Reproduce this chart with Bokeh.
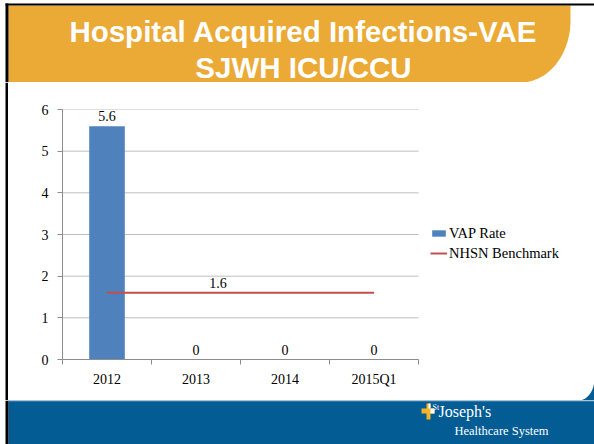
import numpy as np
from bokeh.plotting import figure
from bokeh.layouts import column, row
from bokeh.models import (Range1d, LinearAxis, FixedTicker, ColumnDataSource, LabelSet,
                          Legend, LegendItem)
from bokeh.core.properties import value
from bokeh.embed import file_html
from bokeh.resources import INLINE

# ---------------- data ----------------
categories = ["2012", "2013", "2014", "2015Q1"]
vap_rate = [5.6, 0, 0, 0]
nhsn_benchmark = [1.6, 1.6, 1.6, 1.6]
y_ticks = [0, 1, 2, 3, 4, 5, 6]
series_names = ["VAP Rate", "NHSN Benchmark"]
title_lines = ["Hospital Acquired Infections-VAE", "SJWH ICU/CCU"]
logo_lines = ["St", "Joseph's", "Healthcare System"]

# ---------------- style ----------------
BLUE = "#4F81BD"
RED = "#C0504D"
ORANGE = "#EBAA35"
NAVY = "#035C93"
NAVY_EDGE = "#5A8DB8"
YELLOW = "#F3B42A"
AXIS = "#8C8C8C"
GRID = "#BEBEBE"
SERIF = "Liberation Serif"
SANS = "Liberation Sans"


def deco_fig(x0, y0, w, h):
    """A decoration panel whose data coordinates are page pixels (y downward)."""
    f = figure(width=w, height=h, x_range=Range1d(x0, x0 + w), y_range=Range1d(y0 + h, y0),
               min_border=0, title=None, toolbar_location=None, x_axis_location=None,
               y_axis_location=None, outline_line_color=None, output_backend="svg",
               border_fill_color="white", background_fill_color="white")
    f.grid.visible = False
    f.frame_align = False
    return f


t = np.linspace(0, np.pi / 2, 40)

# ---------------- header ----------------
head = deco_fig(0, 0, 594, 82)
hx = [8, 570, 570] + list(520 + 50 * np.cos(t)) + [8]
hy = [5, 5, 20] + list(20 + 62 * np.sin(t)) + [82]
head.patch(hx, hy, fill_color=ORANGE, line_color=None)
head.quad(left=[5, 5], right=[594, 8], top=[3, 3], bottom=[5, 82], fill_color="black",
          line_color=None)
head.text(x=[303, 303], y=[31, 66.5], text=title_lines, text_align="center",
          text_baseline="middle", text_color="white", text_font=value(SANS),
          text_font_style="bold", text_font_size="29.5px")

# ---------------- left / right strips beside the chart ----------------
lstrip = deco_fig(0, 82, 8, 318)
lstrip.quad(left=[5], right=[8], top=[82], bottom=[400], fill_color="black", line_color=None)

rstrip = deco_fig(578, 82, 16, 318)
rstrip.patch(list(578 + 16 * np.sin(t)) + [594], list(378 + 22 * np.cos(t)) + [400],
             fill_color=NAVY, line_color=None)

# ---------------- footer ----------------
foot = deco_fig(0, 400, 594, 44)
foot.quad(left=[8, 5, 8], right=[594, 8, 594], top=[400, 400, 400], bottom=[444, 444, 401],
          fill_color=[NAVY, "black", NAVY_EDGE], line_color=None)
foot.quad(left=[421, 426, 428, 430], right=[434, 430, 430, 434], top=[408, 403, 403, 408],
          bottom=[413, 419, 408, 413], fill_color=[YELLOW, YELLOW, "white", "white"],
          line_color=None)
foot.text(x=[432, 438, 454], y=[407, 410.5, 430], text=logo_lines,
          text_baseline="middle", text_color="white", text_font=value(SERIF),
          text_font_size=["8px", "16px", "12.5px"])

# ---------------- chart ----------------
n = len(categories)
centers = [i + 0.5 for i in range(n)]      # category slot centres
bounds = list(range(n + 1))                 # category slot boundaries
# frame spans page x 62..578; the category slots occupy page x 62..418
x_end = n * (578 - 62) / (418 - 62)

p = figure(width=570, height=318, x_range=Range1d(0, x_end), y_range=Range1d(0, 6),
           output_backend="svg", toolbar_location=None, x_axis_location=None,
           y_axis_location="left", title=None,
           min_border_left=54, min_border_right=0, min_border_top=27, min_border_bottom=41,
           outline_line_color=None, background_fill_color="white", border_fill_color="white")
p.frame_align = False

tick_axis = LinearAxis(ticker=FixedTicker(ticks=bounds), bounds=(0, n),
                       major_tick_in=0, major_tick_out=5, minor_tick_line_color=None,
                       axis_line_color=AXIS, major_tick_line_color=AXIS,
                       major_label_text_font_size="1px", major_label_text_color=None,
                       major_label_standoff=0)
p.add_layout(tick_axis, "below")
cat_axis = LinearAxis(ticker=FixedTicker(ticks=centers), bounds=(0, n),
                      major_label_overrides={c: lab for c, lab in zip(centers, categories)},
                      axis_line_color=None, major_tick_line_color=None,
                      minor_tick_line_color=None,
                      major_tick_in=0, major_tick_out=0, major_label_standoff=7,
                      major_label_text_font=SERIF, major_label_text_font_size="14px",
                      major_label_text_color="black")
p.add_layout(cat_axis, "below")

p.yaxis.ticker = FixedTicker(ticks=y_ticks)
p.yaxis.major_tick_in = 0
p.yaxis.major_tick_out = 5
p.yaxis.minor_tick_line_color = None
p.yaxis.axis_line_color = AXIS
p.yaxis.major_tick_line_color = AXIS
p.yaxis.major_label_standoff = 9
p.yaxis.major_label_text_font = SERIF
p.yaxis.major_label_text_font_size = "14px"
p.yaxis.major_label_text_color = "black"
p.grid.visible = False

# horizontal gridlines limited to the category area
p.segment(x0=0, x1=n, y0=y_ticks[1:], y1=y_ticks[1:], line_color=GRID, line_width=1)

src = ColumnDataSource(dict(x=centers, vap=vap_rate, bench=nhsn_benchmark,
                            vap_text=[f"{v:g}" for v in vap_rate]))
bars = p.vbar(x="x", top="vap", width=0.4, source=src, fill_color=BLUE, line_color=None)
line = p.line(x="x", y="bench", source=src, line_color=RED, line_width=2)

p.add_layout(LabelSet(x="x", y="vap", text="vap_text", source=src, y_offset=5,
                      text_align="center", text_baseline="alphabetic",
                      text_font=value(SERIF), text_font_size="14px", text_color="black"))
bsrc = ColumnDataSource(dict(x=[centers[1]], y=[nhsn_benchmark[1]],
                             text=[f"{nhsn_benchmark[1]:g}"]))
p.add_layout(LabelSet(x="x", y="y", text="text", source=bsrc, x_offset=22, y_offset=5,
                      text_align="center", text_baseline="alphabetic",
                      text_font=value(SERIF), text_font_size="14px", text_color="black"))

lg = Legend(items=[LegendItem(label=series_names[0], renderers=[bars]),
                   LegendItem(label=series_names[1], renderers=[line])],
            location=(430 - 62, 359 - 263), glyph_width=17, glyph_height=8, label_standoff=2,
            label_height=20, spacing=0, padding=0, margin=0, border_line_color=None,
            background_fill_alpha=0, label_text_font=SERIF, label_text_font_size="14.5px",
            label_text_color="black")
p.add_layout(lg)

layout = column(head, row(lstrip, p, rstrip, spacing=0), foot, spacing=0)
open("out.html", "w").write(file_html(layout, INLINE))
